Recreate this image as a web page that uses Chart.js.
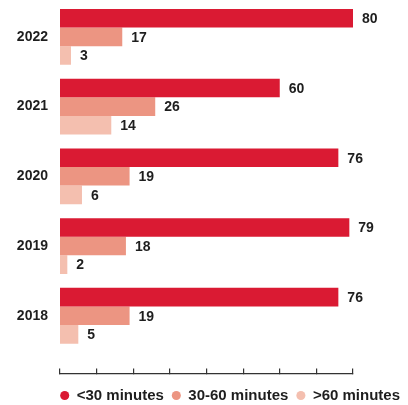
<!DOCTYPE html>
<html>
<head>
<meta charset="utf-8">
<script src="https://cdn.jsdelivr.net/npm/chart.js@4/dist/chart.umd.min.js"></script>
<style>
  html, body { margin: 0; padding: 0; background: #fff; }
  #wrap { width: 408px; height: 405px; }
</style>
</head>
<body>
<div id="wrap"><canvas id="commuteChart"></canvas></div>
<script>
// years, top to bottom
const years = ["2022", "2021", "2020", "2019", "2018"];
const seriesNames = ["<30 minutes", "30-60 minutes", ">60 minutes"];
const under30 = [80, 60, 76, 79, 76];
const between30and60 = [17, 26, 19, 18, 19];
const over60 = [3, 14, 6, 2, 5];
const xTicks = [0, 10, 20, 30, 40, 50, 60, 70, 80];

const colors = ["#da1a33", "#ec9582", "#f4bfaf"];
const fontFamily = "'Liberation Sans', Arial, sans-serif";
const textColor = "#1e1e1e";

// value labels at the end of each bar
const barLabels = {
  id: "barLabels",
  afterDatasetsDraw(chart) {
    const ctx = chart.ctx;
    ctx.save();
    ctx.font = "bold 14px " + fontFamily;
    ctx.fillStyle = textColor;
    ctx.textAlign = "left";
    ctx.textBaseline = "middle";
    chart.data.datasets.forEach((ds, i) => {
      chart.getDatasetMeta(i).data.forEach((bar, j) => {
        ctx.fillText(ds.data[j], bar.x + 9, bar.y + 1);
      });
    });
    ctx.restore();
  }
};

new Chart(document.getElementById("commuteChart"), {
  type: "bar",
  data: {
    labels: years,
    datasets: [
      { label: seriesNames[0], data: under30, backgroundColor: colors[0] },
      { label: seriesNames[1], data: between30and60, backgroundColor: colors[1] },
      { label: seriesNames[2], data: over60, backgroundColor: colors[2] }
    ]
  },
  options: {
    indexAxis: "y",
    responsive: true,
    maintainAspectRatio: false,
    animation: false,
    datasets: {
      bar: { categoryPercentage: 0.8, barPercentage: 1.0, borderWidth: 0 }
    },
    layout: { padding: { top: 2, bottom: -8, left: 0, right: 0 } },
    scales: {
      y: {
        type: "category",
        grid: { display: false, drawTicks: false },
        border: { display: false },
        ticks: { color: textColor, font: { family: fontFamily, size: 14, weight: "bold" }, padding: 12 },
        afterFit: s => { s.width = 60; s.paddingTop = 0; s.paddingBottom = 0; }
      },
      yRight: {
        type: "linear",
        position: "right",
        grid: { display: false, drawTicks: false },
        border: { display: false },
        ticks: { display: false },
        afterFit: s => { s.width = 55; }
      },
      x: {
        type: "linear",
        position: "bottom",
        min: 0,
        max: 80,
        weight: 0,
        grid: { display: false },
        border: { display: false },
        ticks: { display: false },
        afterFit: s => { s.height = 23; }
      },
      xAxisLine: {
        type: "linear",
        position: "bottom",
        axis: "x",
        min: xTicks[0],
        max: xTicks[xTicks.length - 1],
        weight: 1,
        grid: { drawOnChartArea: false, drawTicks: true, tickLength: -5, color: "#333", lineWidth: 1.2 },
        border: { display: true, color: "#333", width: 1.2 },
        ticks: { display: false, stepSize: 10 },
        afterFit: s => { s.height = 6.4; }
      }
    },
    plugins: {
      tooltip: { enabled: false },
      legend: {
        position: "bottom",
        align: "end",
        labels: {
          usePointStyle: true,
          pointStyle: "circle",
          boxWidth: 9,
          boxHeight: 6.4,
          padding: 8,
          color: textColor,
          font: { family: fontFamily, size: 15, weight: "bold" }
        }
      }
    }
  },
  plugins: [barLabels]
});
</script>
</body>
</html>
